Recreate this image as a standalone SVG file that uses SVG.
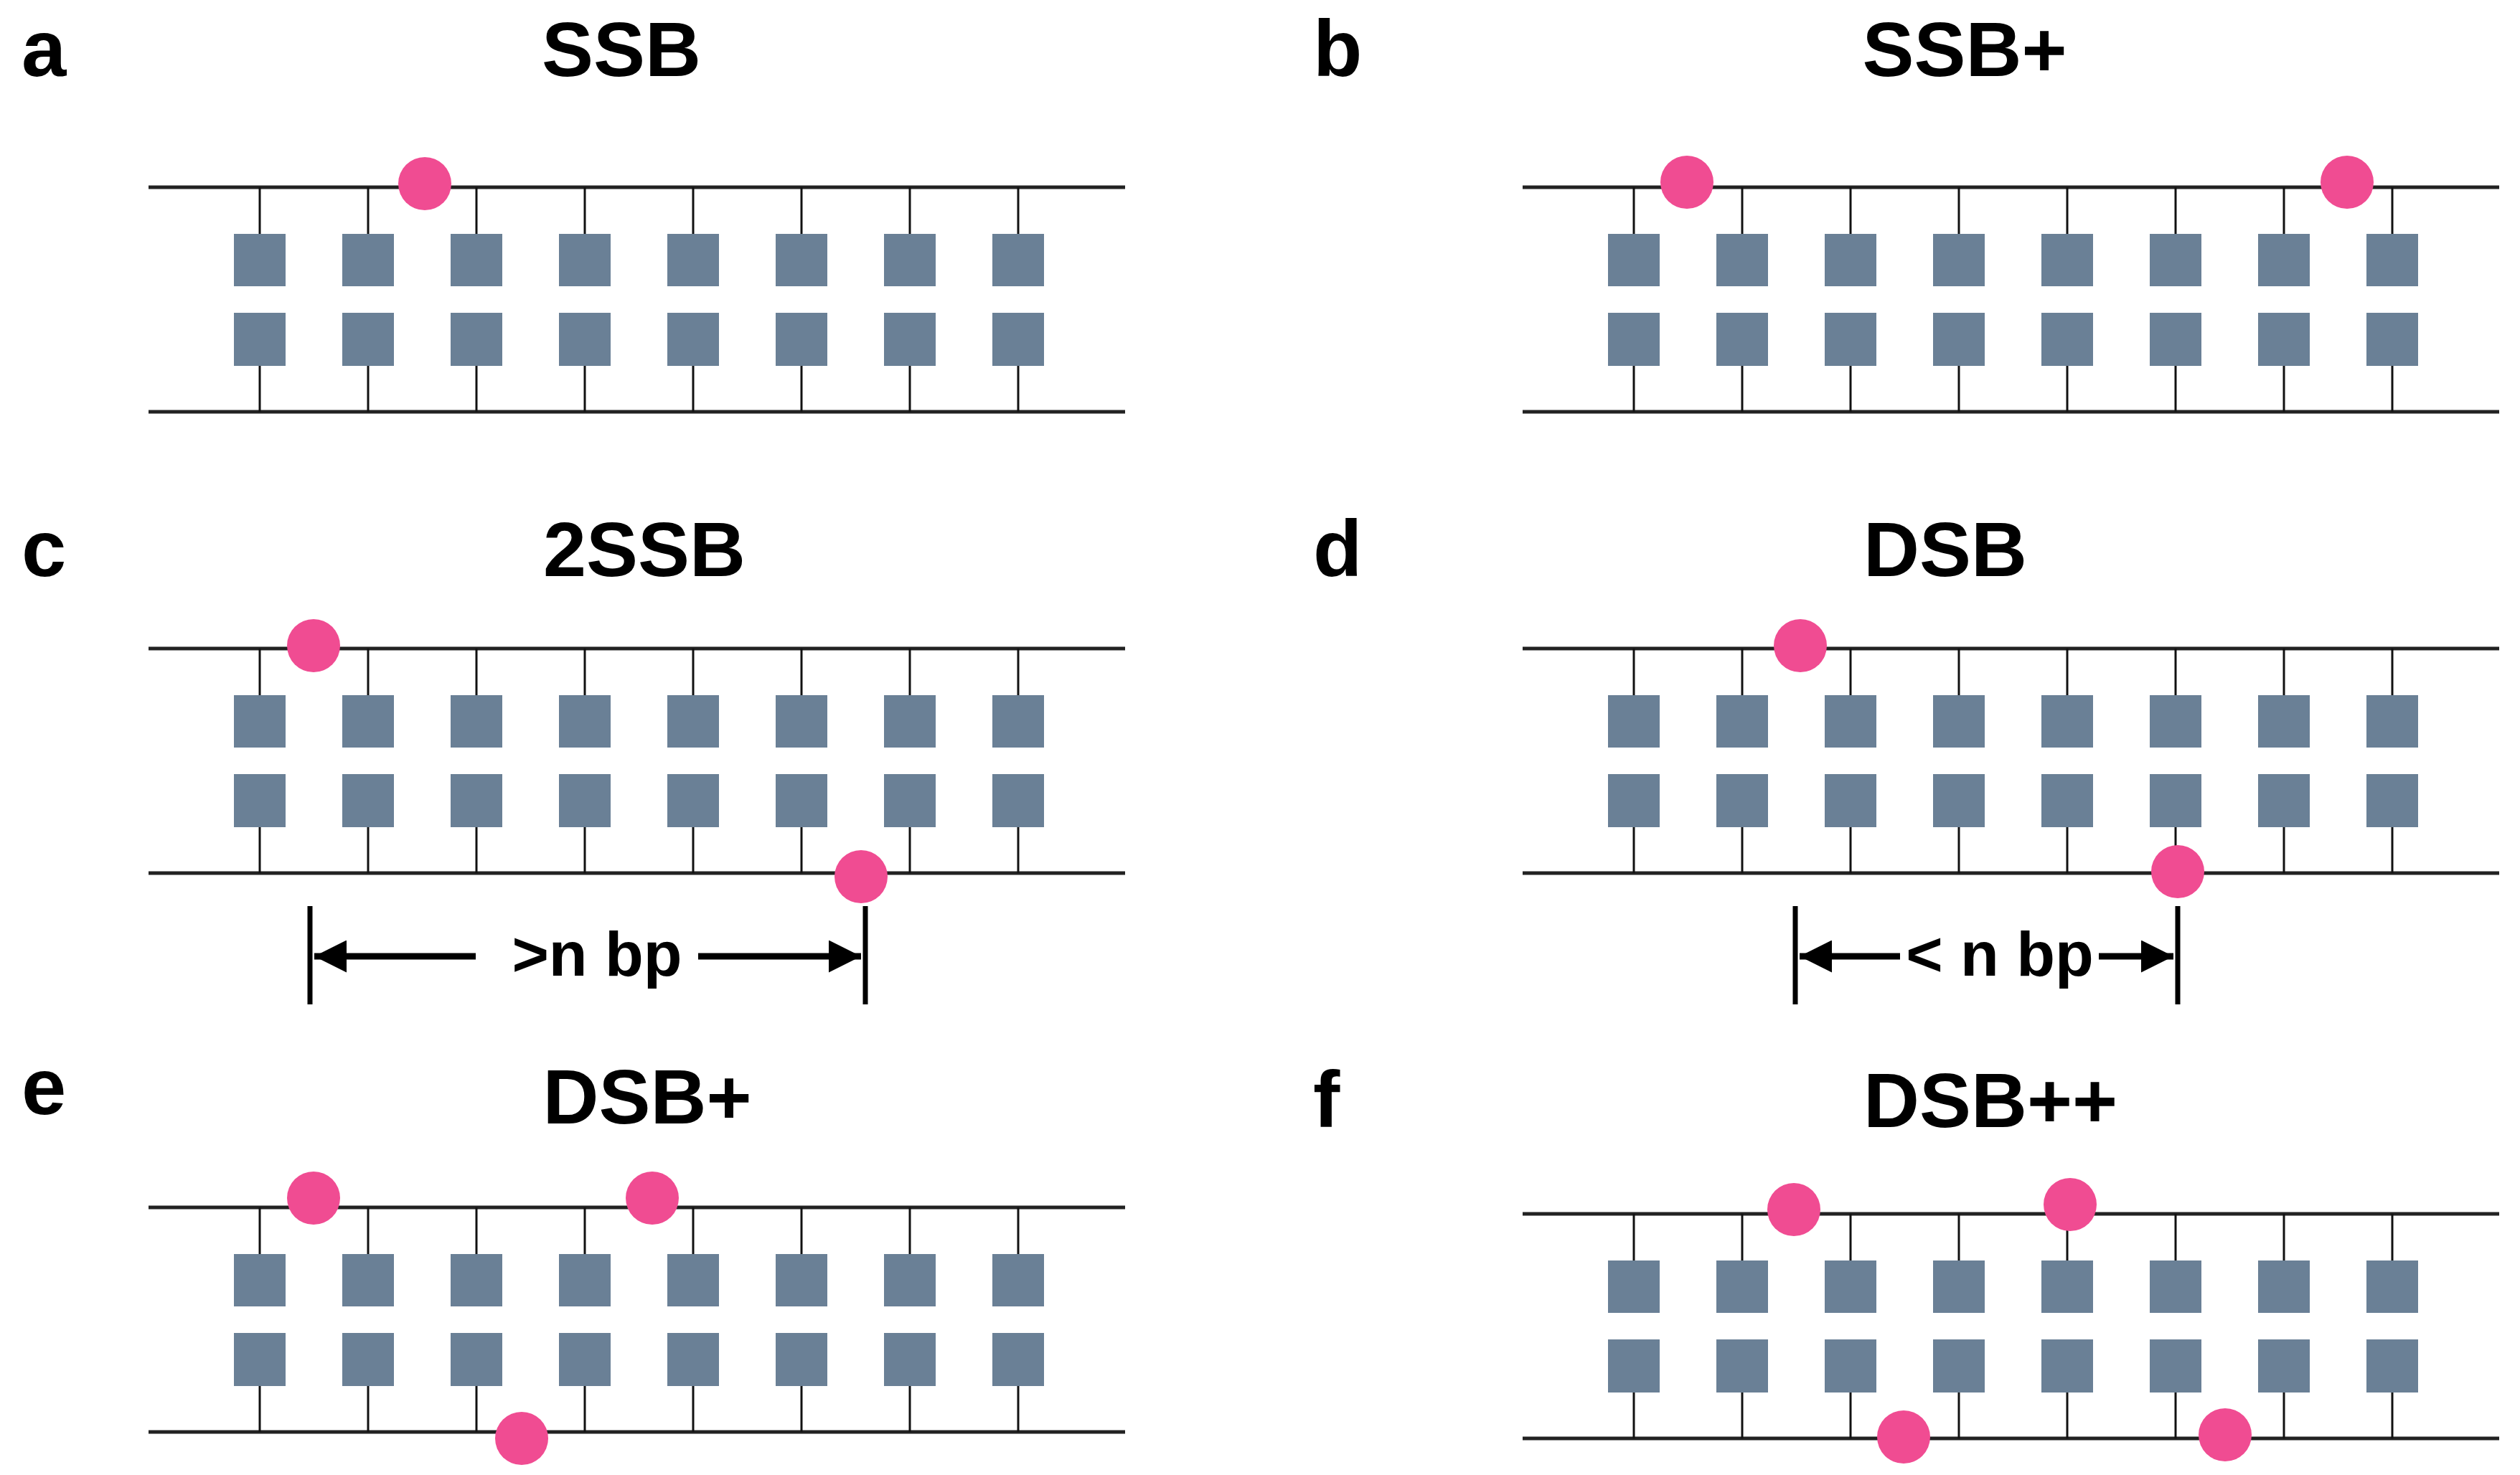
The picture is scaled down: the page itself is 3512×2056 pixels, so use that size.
<svg xmlns="http://www.w3.org/2000/svg" width="3512" height="2056" viewBox="0 0 3512 2056">
<style>
.t{font-family:"Liberation Sans",Arial,sans-serif;font-weight:bold;fill:#000}
.title{font-size:108px;text-anchor:middle}
.lab{font-size:112px}
.dim{font-size:88px;text-anchor:middle}
.box{fill:#6a8096}
.strand{stroke:#222;stroke-width:5}
.tick{stroke:#111;stroke-width:3}
.nick{fill:#f04c92}
.bar{stroke:#000;stroke-width:7}
.arr{stroke:#000;stroke-width:9;fill:none}
</style>
<defs>
<marker id="ah" viewBox="0 0 10 10" refX="10" refY="5" markerWidth="5" markerHeight="5" markerUnits="strokeWidth" orient="auto">
<path d="M0,0 L10,5 L0,10 z" fill="#000"/>
</marker>
<g id="col">
<line class="tick" x1="0" y1="0" x2="0" y2="65"/>
<rect class="box" x="-36" y="65" width="72" height="73"/>
<rect class="box" x="-36" y="175" width="72" height="74"/>
<line class="tick" x1="0" y1="249" x2="0" y2="313"/>
</g>
<g id="duplex">
<line class="strand" x1="0" y1="0" x2="1361" y2="0"/>
<line class="strand" x1="0" y1="313" x2="1361" y2="313"/>
<use href="#col" x="155"/><use href="#col" x="306"/><use href="#col" x="457"/><use href="#col" x="608"/>
<use href="#col" x="759"/><use href="#col" x="910"/><use href="#col" x="1061"/><use href="#col" x="1212"/>
</g>
</defs>
<rect width="3512" height="2056" fill="#fff"/>
<g id="panel-a">
<text class="t lab" x="30" y="106">a</text>
<text class="t title" x="866" y="106">SSB</text>
<use href="#duplex" x="207" y="261"/>
<circle class="nick" cx="592" cy="256" r="37"/>
</g>
<g id="panel-b">
<text class="t lab" x="1830" y="106">b</text>
<text class="t title" x="2738" y="106">SSB+</text>
<use href="#duplex" x="2122" y="261"/>
<circle class="nick" cx="2351" cy="254" r="37"/>
<circle class="nick" cx="3271" cy="254" r="37"/>
</g>
<g id="panel-c">
<text class="t lab" x="30" y="803">c</text>
<text class="t title" x="898" y="803">2SSB</text>
<use href="#duplex" x="207" y="904"/>
<circle class="nick" cx="437" cy="900" r="37"/>
<circle class="nick" cx="1200" cy="1222" r="37"/>
</g>
<g id="panel-d">
<text class="t lab" x="1830" y="803">d</text>
<text class="t title" x="2711" y="803">DSB</text>
<use href="#duplex" x="2122" y="904"/>
<circle class="nick" cx="2509" cy="900" r="37"/>
<circle class="nick" cx="3035" cy="1215" r="37"/>
</g>
<g id="panel-e">
<text class="t lab" x="30" y="1553">e</text>
<text class="t title" x="902" y="1566">DSB+</text>
<use href="#duplex" x="207" y="1683"/>
<circle class="nick" cx="437" cy="1670" r="37"/>
<circle class="nick" cx="909" cy="1670" r="37"/>
<circle class="nick" cx="727" cy="2005" r="37"/>
</g>
<g id="panel-f">
<text class="t lab" x="1830" y="1571">f</text>
<text class="t title" x="2774" y="1571">DSB++</text>
<use href="#duplex" x="2122" y="1692"/>
<circle class="nick" cx="2500" cy="1686" r="37"/>
<circle class="nick" cx="2885" cy="1679" r="37"/>
<circle class="nick" cx="2653" cy="2003" r="37"/>
<circle class="nick" cx="3101" cy="2000" r="37"/>
</g>
<g id="connectors">
<line class="bar" x1="432" y1="1263" x2="432" y2="1400"/>
<line class="bar" x1="1206" y1="1263" x2="1206" y2="1400"/>
<line class="arr" x1="663" y1="1333" x2="438" y2="1333" marker-end="url(#ah)"/>
<line class="arr" x1="973" y1="1333" x2="1200" y2="1333" marker-end="url(#ah)"/>
<text class="t dim" x="832" y="1360">&gt;n bp</text>
<line class="bar" x1="2502" y1="1263" x2="2502" y2="1400"/>
<line class="bar" x1="3035" y1="1263" x2="3035" y2="1400"/>
<line class="arr" x1="2648" y1="1333" x2="2508" y2="1333" marker-end="url(#ah)"/>
<line class="arr" x1="2925" y1="1333" x2="3029" y2="1333" marker-end="url(#ah)"/>
<text class="t dim" x="2787" y="1360">&lt; n bp</text>
</g>
</svg>
